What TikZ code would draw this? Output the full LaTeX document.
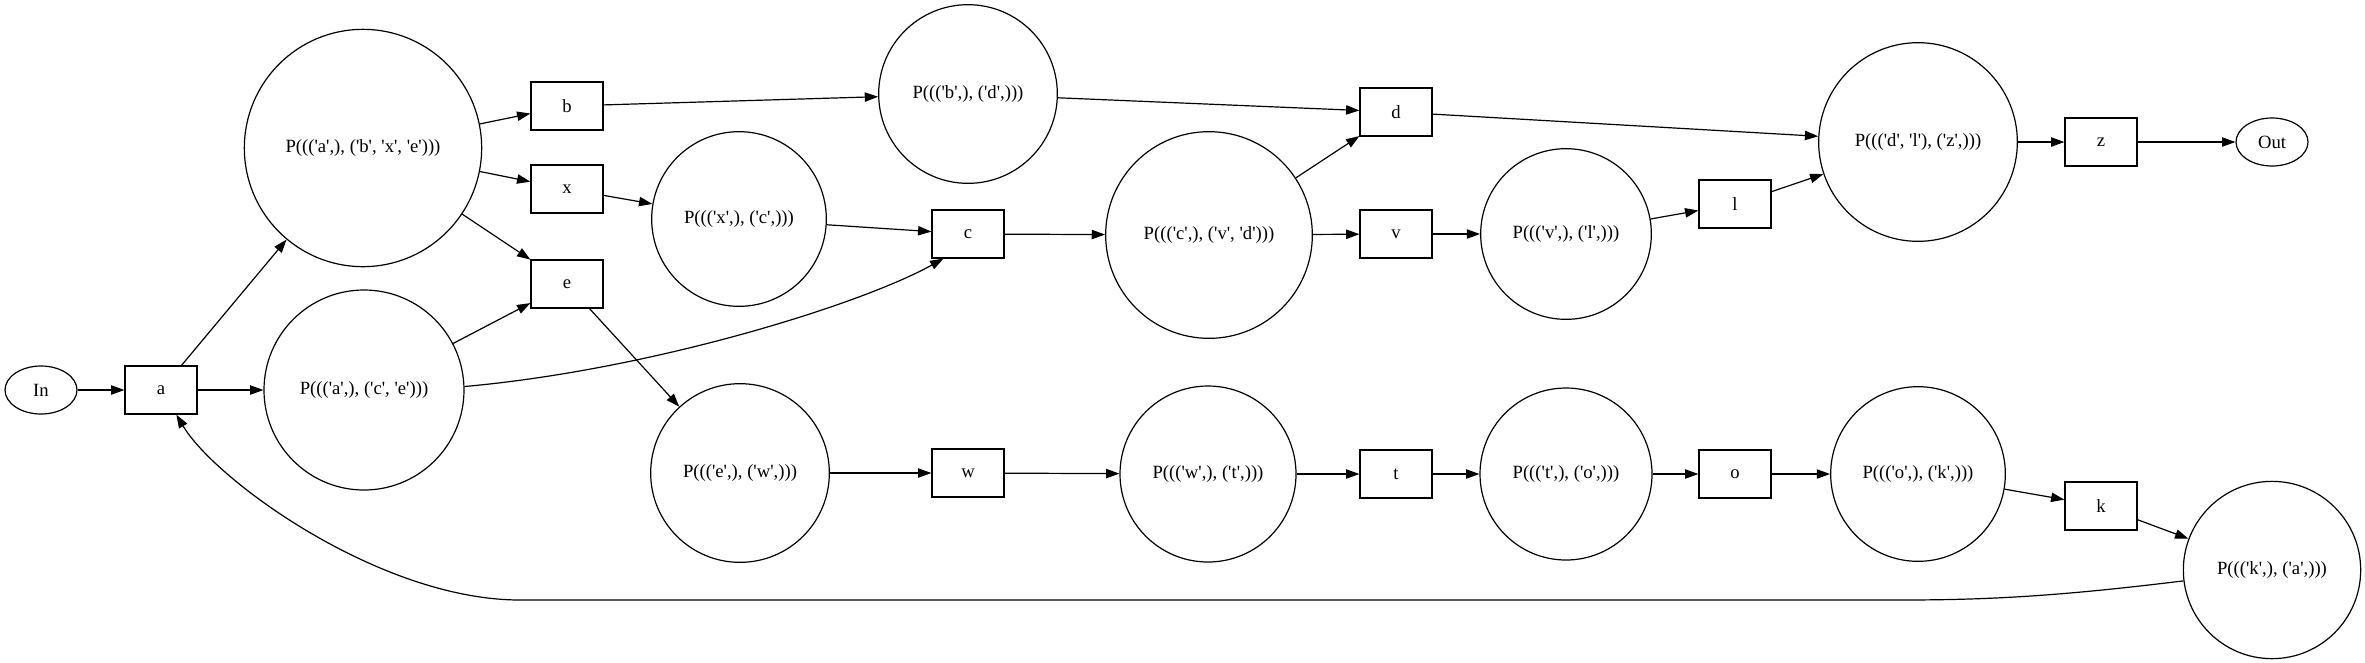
\documentclass[tikz,border=0pt]{standalone}
\usepackage{fontspec}
\setmainfont{Liberation Serif}[Ligatures=TeXOff]
\usetikzlibrary{arrows.meta,shapes.geometric}
\tikzset{
  every node/.style={font=\fontsize{14pt}{16pt}\selectfont},
  pbox/.style={draw, line width=0.9pt, rectangle, minimum width=54pt, minimum height=36pt, inner sep=0pt},
  pcirc/.style={draw, line width=0.9pt, circle, inner sep=0pt, minimum size=#1},
  term/.style={draw, line width=0.9pt, ellipse, minimum width=54pt, minimum height=36pt, inner sep=0pt},
  arr/.style={line width=0.9pt, -{Triangle[length=10pt,width=7pt]}}
}
\begin{document}
\begin{tikzpicture}[x=0.75pt,y=-0.75pt]
\useasboundingbox (0,0) rectangle (2365,662);
% terminals and boxes
\node[term] (nIn) at (41,390) {In};
\node[pbox] (a) at (161,390) {a};
\node[pbox] (b) at (567,106) {b};
\node[pbox] (x) at (567,189) {x};
\node[pbox] (e) at (567,284) {e};
\node[pbox] (c) at (968,234) {c};
\node[pbox] (w) at (968,473) {w};
\node[pbox] (d) at (1396,112) {d};
\node[pbox] (v) at (1396,234) {v};
\node[pbox] (t) at (1396,474) {t};
\node[pbox] (l) at (1735,204) {l};
\node[pbox] (o) at (1735,474) {o};
\node[pbox] (z) at (2101,142) {z};
\node[pbox] (k) at (2101,506) {k};
\node[term] (nOut) at (2272,142) {Out};
% circles
\node[pcirc=178pt] (pabxe) at (363,148) {P((('a',), ('b', 'x', 'e')))};
\node[pcirc=150pt] (pace) at (364,390) {P((('a',), ('c', 'e')))};
\node[pcirc=131pt] (pxc) at (739,219) {P((('x',), ('c',)))};
\node[pcirc=134pt] (pew) at (740,473) {P((('e',), ('w',)))};
\node[pcirc=134pt] (pbd) at (968,94) {P((('b',), ('d',)))};
\node[pcirc=155pt] (pcvd) at (1209,235) {P((('c',), ('v', 'd')))};
\node[pcirc=132pt] (pwt) at (1208,474) {P((('w',), ('t',)))};
\node[pcirc=128pt] (pvl) at (1566,234) {P((('v',), ('l',)))};
\node[pcirc=129pt] (pto) at (1566,474) {P((('t',), ('o',)))};
\node[pcirc=149pt] (pdlz) at (1918,142) {P((('d', 'l'), ('z',)))};
\node[pcirc=131pt] (pok) at (1918,474) {P((('o',), ('k',)))};
\node[pcirc=133pt] (pka) at (2272,570) {P((('k',), ('a',)))};
% edges
\draw[arr] (nIn) -- (a);
\draw[arr] (a) -- (pabxe);
\draw[arr] (a) -- (pace);
\draw[arr] (pabxe) -- (b);
\draw[arr] (pabxe) -- (x);
\draw[arr] (pabxe) -- (e);
\draw[arr] (pace) -- (e);
\draw[arr] (pace.2) .. controls (650,370) and (860,305) .. (c.-135);
\draw[arr] (b) -- (pbd);
\draw[arr] (x) -- (pxc);
\draw[arr] (e) -- (pew);
\draw[arr] (pbd) -- (d);
\draw[arr] (pxc) -- (c);
\draw[arr] (c) -- (pcvd);
\draw[arr] (pcvd) -- (d);
\draw[arr] (pcvd) -- (v);
\draw[arr] (d) -- (pdlz);
\draw[arr] (v) -- (pvl);
\draw[arr] (pvl) -- (l);
\draw[arr] (l) -- (pdlz);
\draw[arr] (pdlz) -- (z);
\draw[arr] (z) -- (nOut);
\draw[arr] (pew) -- (w);
\draw[arr] (w) -- (pwt);
\draw[arr] (pwt) -- (t);
\draw[arr] (t) -- (pto);
\draw[arr] (pto) -- (o);
\draw[arr] (o) -- (pok);
\draw[arr] (pok) -- (k);
\draw[arr] (k) -- (pka);
\coordinate (r1) at (1900,600);
\coordinate (r2) at (520,600);
\draw[arr] (pka.187) .. controls (2060,596) and (1990,600) .. (r1) -- (r2) .. controls (380,600) and (215,480) .. (a.-58);
\end{tikzpicture}
\end{document}
